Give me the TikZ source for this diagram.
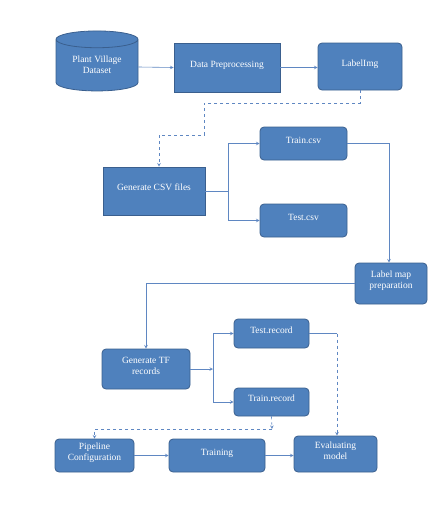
\documentclass[tikz,border=0pt]{standalone}
\usepackage{fontspec}
\setmainfont{Liberation Serif}
\usepackage{xcolor}
\definecolor{boxblue}{HTML}{4F81BD}
\definecolor{edgeblue}{HTML}{3A5F8E}
\definecolor{lineblue}{HTML}{5F87C2}
\usetikzlibrary{arrows, shapes}

\begin{document}
\begin{tikzpicture}[x=1pt, y=-1pt,
  every node/.style={font=\fontsize{9.5}{11}\selectfont, text=white, align=center},
  box/.style={draw=edgeblue, thick, fill=boxblue, text depth=7pt},
  rbox/.style={box, rounded corners=4pt},
  link/.style={draw=lineblue, semithick, >=stealth}]
  \useasboundingbox (0,0) rectangle (430,509);
  % Dataset cylinder
  \node[draw=edgeblue, thick, fill=boxblue, cylinder, shape border rotate=90, aspect=0.3, minimum width=82pt, minimum height=60pt, text height=14pt] (dataset) at (97,67) {Plant Village\\Dataset};
  % Top row boxes
  \node[box, minimum width=106pt, minimum height=49pt] (prep) at (227,67.5) {Data Preprocessing};
  \node[rbox, minimum width=84pt, minimum height=47pt] (labelimg) at (360,66.5) {LabelImg};
  % CSV stage
  \node[box, minimum width=102pt, minimum height=48pt] (gencsv) at (154,191) {Generate CSV files};
  \node[rbox, minimum width=87pt, minimum height=33pt] (traincsv) at (303.5,143.5) {Train.csv};
  \node[rbox, minimum width=87pt, minimum height=33pt] (testcsv) at (303.5,220.5) {Test.csv};
  \node[rbox, minimum width=72pt, minimum height=41pt] (labelmap) at (391,283.5) {Label map\\preparation};
  % TF record stage
  \node[rbox, minimum width=88pt, minimum height=40pt] (gentf) at (146,369) {Generate TF\\records};
  \node[rbox, minimum width=75pt, minimum height=29pt] (testrec) at (271.5,333.5) {Test.record};
  \node[rbox, minimum width=75pt, minimum height=28pt] (trainrec) at (271.5,402) {Train.record};
  % Bottom row boxes
  \node[rbox, minimum width=79pt, minimum height=33pt] (pipeline) at (94.5,455.5) {Pipeline\\Configuration};
  \node[rbox, minimum width=96pt, minimum height=33pt] (training) at (217,455.5) {Training};
  \node[rbox, minimum width=83pt, minimum height=36pt] (evaluate) at (335.5,454) {Evaluating\\model};

  % Junction points
  \coordinate (csvsplit) at (228,191);
  \coordinate (tfsplit) at (213,369);
  \coordinate (evalbus) at (337,333.5);
  \coordinate (pipebus) at (272,429);

  % Top row arrows
  \draw[link, ->] (dataset.east) -- (prep.west);
  \draw[link, ->] (prep.east) -- (prep.east -| labelimg.west);
  \draw[link, dashed, ->] (labelimg.south) -- ++(0,13) -| (204,135) -| ([xshift=5pt]gencsv.north);
  % Split into csv files
  \draw[link] (gencsv.east) -- (csvsplit);
  \draw[link, ->] (csvsplit) |- (traincsv.west);
  \draw[link, ->] (csvsplit) |- (testcsv.west);
  \draw[link, ->] (traincsv.east) -| ([xshift=-2pt]labelmap.north);
  \draw[link, ->] (labelmap.west) -| (gentf.north);
  % Split into records
  \draw[link, ->] (gentf.east) -- (tfsplit);
  \draw[link, ->] (tfsplit) |- (testrec.west);
  \draw[link, ->] (tfsplit) |- (trainrec.west);
  \draw[link] (testrec.east) -- (evalbus);
  \draw[link, dashed, ->] (evalbus) -- (evalbus |- evaluate.north);
  \draw[link, dashed, ->] (trainrec.south) -- (pipebus);
  \draw[link, dashed, ->] (pipebus) -| (pipeline.north);
  % Bottom row arrows
  \draw[link, ->] (pipeline.east) -- (training.west);
  \draw[link, ->] (training.east) -- (training.east -| evaluate.west);
\end{tikzpicture}
\end{document}
